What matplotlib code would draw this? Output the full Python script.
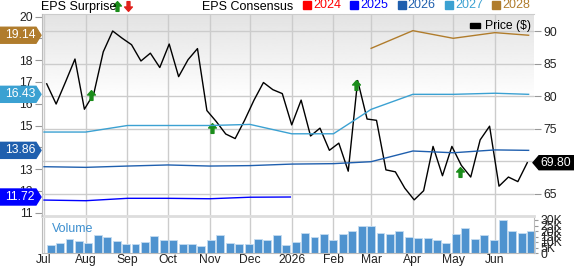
import numpy as np
import pandas as pd
import matplotlib
matplotlib.use('Agg')
import matplotlib.pyplot as plt
import matplotlib.dates as mdates
from matplotlib.patches import Polygon, Rectangle
from matplotlib.path import Path
from matplotlib.lines import Line2D
from matplotlib.transforms import IdentityTransform

plt.rcParams['font.family'] = ['Liberation Sans', 'DejaVu Sans']

# weekly closing price and volume (K)
week_start = '2025-07-03'
price = [81.9, 78.8, 82.2, 85.7, 78.0, 80.4, 86.8, 90.0, 88.9, 87.9, 85.4, 86.6, 84.4,
         88.0, 83.0, 85.6, 87.3, 77.8, 76.1, 74.2, 73.5, 76.3, 79.4, 82.1, 81.0, 80.4,
         75.6, 79.4, 73.9, 75.1, 71.7, 72.8, 68.5, 82.4, 76.5, 76.3, 68.7, 68.4, 65.9,
         64.1, 65.5, 72.3, 67.8, 72.3, 69.4, 67.6, 73.3, 75.4, 66.2, 67.6, 66.9, 69.8]
volume_k = [7.5, 9.0, 12.7, 11.2, 8.8, 16.6, 14.5, 10.6, 8.5, 8.5, 9.7, 15.7, 12.1,
            12.1, 8.5, 8.5, 6.4, 12.1, 16.6, 9.0, 8.5, 8.2, 13.0, 11.8, 16.6, 7.0,
            9.7, 18.2, 14.5, 17.3, 12.1, 17.6, 19.7, 24.2, 24.2, 18.5, 17.6, 20.3, 14.5,
            13.6, 13.3, 12.1, 9.0, 17.3, 23.0, 12.7, 16.4, 12.1, 29.7, 19.7, 17.9, 19.7]

# EPS consensus by fiscal year
eps_dates_2025 = ['2025-07-01', '2025-08-01', '2025-09-01', '2025-10-01', '2025-11-01',
                  '2025-12-01', '2025-12-31']
eps_2025 = [11.58, 11.55, 11.66, 11.66, 11.64, 11.71, 11.72]
eps_dates = ['2025-07-01', '2025-08-01', '2025-09-01', '2025-10-01', '2025-11-01',
             '2025-12-01', '2026-01-01', '2026-02-01', '2026-03-01', '2026-04-01',
             '2026-05-01', '2026-06-01', '2026-06-26']
eps_2026 = [13.11, 13.08, 13.14, 13.19, 13.14, 13.16, 13.23, 13.25, 13.34, 13.83, 13.75, 13.88, 13.86]
eps_2027 = [14.70, 14.70, 15.00, 15.00, 15.00, 15.05, 14.62, 14.62, 15.74, 16.43, 16.43, 16.48, 16.43]
eps_dates_2028 = ['2026-03-01', '2026-04-01', '2026-05-01', '2026-06-01', '2026-06-26']
eps_2028 = [18.54, 19.35, 19.00, 19.26, 19.14]

# EPS surprise markers (date, price level)
surprise_dates = ['2025-08-05', '2025-11-03', '2026-02-18', '2026-05-06']
surprise_y = [80.2, 75.05, 81.7, 68.3]

years = ['2024', '2025', '2026', '2027', '2028']
year_colors = ['#ff0000', '#0000ff', '#1f5fae', '#3ba1d2', '#b07c2c']

W, H = 574, 266
fig = plt.figure(figsize=(W / 100, H / 100), dpi=100)


def fx(px):
    return px / W


def fy(py):
    return 1 - py / H


L, R = 42, 534
ax = fig.add_axes([fx(L), fy(216), fx(R) - fx(L), fy(14) - fy(216)])
axv = fig.add_axes([fx(L), fy(253), fx(R) - fx(L), fy(218) - fy(253)])
axe = ax.twinx()

wk = pd.date_range(week_start, periods=len(price), freq='7D')
x0 = mdates.date2num(pd.Timestamp('2025-07-01'))
xlim = (x0 - 1.5, x0 + 364.0)

# background gradient
grad = np.clip(np.linspace(0.89, 1.15, 256), 0, 1)[:, None]
ax.imshow(grad, extent=(0, 1, 0, 1), transform=ax.transAxes, aspect='auto',
          cmap='gray', vmin=0, vmax=1, zorder=0, origin='upper')

ax.plot(wk, price, color='black', lw=1.0, zorder=3)
arrow_up = Path([(0, 1), (0.8, 0.1), (0.3, 0.1), (0.3, -1), (-0.3, -1), (-0.3, 0.1),
                 (-0.8, 0.1), (0, 1)], closed=True)
arrow_dn = Path([(0, -1), (0.8, -0.1), (0.3, -0.1), (0.3, 1), (-0.3, 1), (-0.3, -0.1),
                 (-0.8, -0.1), (0, -1)], closed=True)
ax.plot(pd.to_datetime(surprise_dates), surprise_y, ls='none', marker=arrow_up,
        ms=7, color='#1a8c1a', zorder=4)

ax.set_xlim(xlim)
ax.set_ylim(90 - (216 - 31) / 6.52, 90 + (31 - 14) / 6.52)
ax.yaxis.tick_right()
ax.set_yticks([65, 70, 75, 80, 85, 90])
ax.xaxis.set_major_locator(mdates.MonthLocator())
ax.tick_params(axis='x', length=0, labelbottom=False)
ax.tick_params(axis='y', length=5, pad=1.5, color='#999999', labelsize=8.7, labelcolor='#222222')
ax.grid(True, color='#cccccc', lw=1.0)
ax.set_axisbelow(True)
for s in ['left', 'right']:
    ax.spines[s].set_visible(False)
ax.spines['top'].set_color('#cccccc')
ax.spines['bottom'].set_color('#dddddd')
ax.spines['bottom'].set_linewidth(2)

# EPS axis on the left
axe.yaxis.tick_left()
axe.plot(pd.to_datetime(eps_dates_2025), eps_2025, color=year_colors[1], lw=1.0)
axe.plot(pd.to_datetime(eps_dates), eps_2026, color=year_colors[2], lw=1.0)
axe.plot(pd.to_datetime(eps_dates), eps_2027, color=year_colors[3], lw=1.0)
axe.plot(pd.to_datetime(eps_dates_2028), eps_2028, color=year_colors[4], lw=1.0)
axe.set_xlim(xlim)
axe.set_ylim(20 - (216 - 16.5) / 21.8, 20 + (16.5 - 14) / 21.8)
axe.set_yticks(range(11, 21))
axe.tick_params(axis='y', length=5, pad=1.5, color='#999999', labelsize=8.7, labelcolor='#222222')
axe.tick_params(axis='x', length=0, labelbottom=False, labeltop=False)
for s in ['top', 'right', 'bottom']:
    axe.spines[s].set_visible(False)
axe.spines['left'].set_color('#bbbbbb')

# volume panel
axv.bar(wk, volume_k, width=5.9, align='edge', color='#4f93cf', edgecolor='#c4dcf0',
        lw=0.6, clip_on=False, zorder=2)
axv.set_xlim(xlim)
axv.set_ylim(0, (253 - 218) / 1.1)
axv.yaxis.tick_right()
axv.set_yticks([0, 5, 10, 15, 20, 25, 30])
axv.set_yticklabels(['0', '5K', '10K', '15K', '20K', '25K', '30K'])
axv.xaxis.set_major_locator(mdates.MonthLocator())
axv.xaxis.set_major_formatter(plt.FuncFormatter(
    lambda v, p: mdates.num2date(v).strftime('%Y') if mdates.num2date(v).month == 1
    else mdates.num2date(v).strftime('%b')))
axv.tick_params(axis='x', length=0, pad=1.0, labelsize=8.7, labelcolor='#222222')
axv.tick_params(axis='y', length=3, pad=1.5, color='#999999', labelsize=8.7, labelcolor='#222222')
axv.grid(True, axis='x', color='#cccccc', lw=1.0)
axv.set_axisbelow(True)
axv.spines['top'].set_visible(False)
for s in ['left', 'bottom', 'right']:
    axv.spines[s].set_color('#bbbbbb')
axv.text((52 - L) / (R - L), 0.7, 'Volume', transform=axv.transAxes,
         color='#3d8fcf', fontsize=9, va='center', ha='left')

# top legend
fig.text(fx(41), fy(7), 'EPS Surprise', fontsize=9, va='center', ha='left')
fig.add_artist(Line2D([fx(116.5)], [fy(6)], transform=fig.transFigure, marker=arrow_up,
                      ms=7, color='#1a8c1a', ls='none'))
fig.add_artist(Line2D([fx(127.5)], [fy(6)], transform=fig.transFigure, marker=arrow_dn,
                      ms=7, color='#e0201b', ls='none'))
fig.text(fx(202), fy(7), 'EPS Consensus', fontsize=9, va='center', ha='left')
for i, (yr, c) in enumerate(zip(years, year_colors)):
    xs = 303 + i * 47.3
    fig.add_artist(Rectangle((fx(xs), fy(9)), fx(8), 8 / H, transform=fig.transFigure,
                             color=c))
    fig.text(fx(xs + 10), fy(5.5), yr, color=c, fontsize=9, va='center', ha='left')

# price legend
fig.add_artist(Rectangle((fx(470), fy(28)), fx(10), 5 / H, transform=fig.transFigure,
                         color='black'))
fig.text(fx(485), fy(25.5), 'Price ($)', fontsize=8.7, va='center', ha='left')

fig.canvas.draw()

# left badges for last EPS values
badges = [(eps_2025[-1], year_colors[1]), (eps_2026[-1], year_colors[2]),
          (eps_2027[-1], year_colors[3]), (eps_2028[-1], year_colors[4])]
for val, c in badges:
    yd = axe.transData.transform((xlim[0], val))[1]
    poly = Polygon([(0, yd - 8), (36, yd - 8), (41, yd), (36, yd + 8), (0, yd + 8)],
                   closed=True, transform=IdentityTransform(), color=c)
    fig.add_artist(poly)
    fig.text(20 / W, yd / H, f'{val:.2f}', color='white', fontsize=8.7,
             ha='center', va='center')

# right price badge
yd = ax.transData.transform((xlim[0], price[-1]))[1]
poly = Polygon([(533, yd), (539, yd + 7), (574, yd + 7), (574, yd - 7), (539, yd - 7)],
               closed=True, transform=IdentityTransform(), color='black')
fig.add_artist(poly)
fig.text(556 / W, yd / H, f'{price[-1]:.2f}', color='white', fontsize=8.7,
         ha='center', va='center')

fig.savefig('out.png', dpi=100)
